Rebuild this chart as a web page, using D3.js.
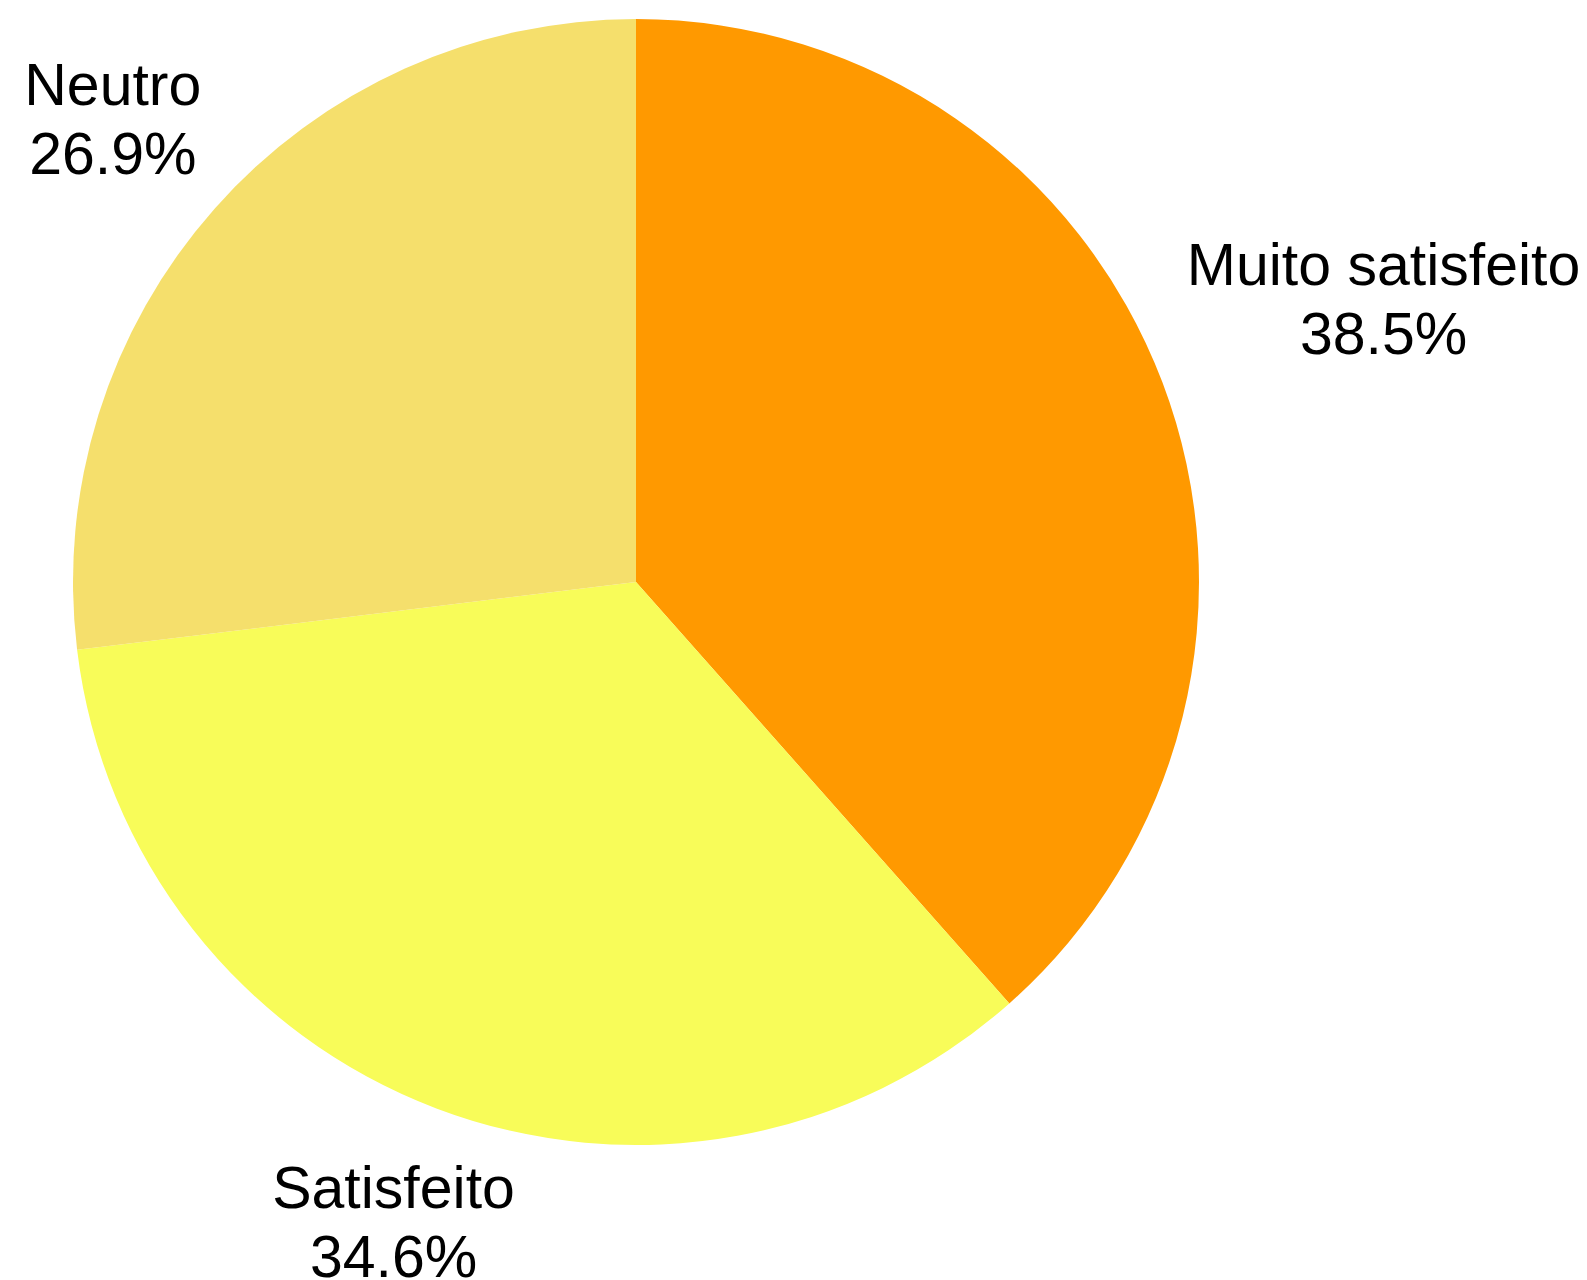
<!DOCTYPE html>
<html>
<head>
<meta charset="utf-8">
<script src="https://cdn.jsdelivr.net/npm/d3@7"></script>
<style>
  html, body { margin: 0; padding: 0; background: #ffffff; }
  svg { display: block; }
  text { font-family: "Liberation Sans", Arial, sans-serif; fill: #000000; }
</style>
</head>
<body>
<svg id="chart" width="1587" height="1280"></svg>
<script>
// Satisfaction survey responses
const categories = ["Muito satisfeito", "Satisfeito", "Neutro"];
const counts = [10, 9, 7];
const colors = ["#ff9900", "#f8fc59", "#f5df6c"];

const width = 1587, height = 1280;
const cx = 636, cy = 582, radius = 563;
const fontSize = 59, lineHeight = 69, labelGap = 33;
const capHeight = 0.72 * fontSize;

const svg = d3.select("#chart");
const g = svg.append("g").attr("transform", `translate(${cx},${cy})`);

const data = categories.map((c, i) => ({ category: c, value: counts[i], color: colors[i] }));
const total = d3.sum(counts);

const pie = d3.pie().sort(null).value(d => d.value);
const arc = d3.arc().innerRadius(0).outerRadius(radius);
const arcs = pie(data);

g.selectAll("path.slice")
  .data(arcs)
  .join("path")
  .attr("class", "slice")
  .attr("d", arc)
  .attr("fill", d => d.data.color);

const fmt = d3.format(".1%");

// Two-line labels placed outside the pie along each slice's mid angle,
// pushed out until the text block clears the rim by labelGap
const labels = g.selectAll("g.label")
  .data(arcs)
  .join("g")
  .attr("class", "label");

labels.each(function(d) {
  const lg = d3.select(this);
  const t = lg.append("text")
    .attr("text-anchor", "middle")
    .attr("font-size", fontSize);
  t.append("tspan").attr("x", 0).attr("y", 0).text(d.data.category);
  t.append("tspan").attr("x", 0).attr("y", lineHeight).text(fmt(d.data.value / total));

  const bb = t.node().getBBox();
  // block spans from the cap top of line 1 to the baseline of line 2
  const boxW = bb.width;
  const boxTop = -capHeight, boxBottom = lineHeight;
  const boxH = boxBottom - boxTop;
  const mid = (d.startAngle + d.endAngle) / 2;
  const ux = Math.sin(mid), uy = -Math.cos(mid);
  const nearest = (dist) => {
    const bx = dist * ux, by = dist * uy;
    const x0 = bx - boxW / 2, x1 = bx + boxW / 2;
    const y0 = by - boxH / 2, y1 = by + boxH / 2;
    const nx = Math.max(x0, Math.min(0, x1));
    const ny = Math.max(y0, Math.min(0, y1));
    return Math.hypot(nx, ny);
  };
  let lo = radius, hi = radius * 3;
  for (let k = 0; k < 60; k++) {
    const m = (lo + hi) / 2;
    if (nearest(m) < radius + labelGap) lo = m; else hi = m;
  }
  const bx = lo * ux, by = lo * uy;
  const offX = bx - (bb.x + bb.width / 2);
  const offY = by - (boxTop + boxH / 2);
  lg.attr("transform", `translate(${offX},${offY})`);
});
</script>
</body>
</html>
